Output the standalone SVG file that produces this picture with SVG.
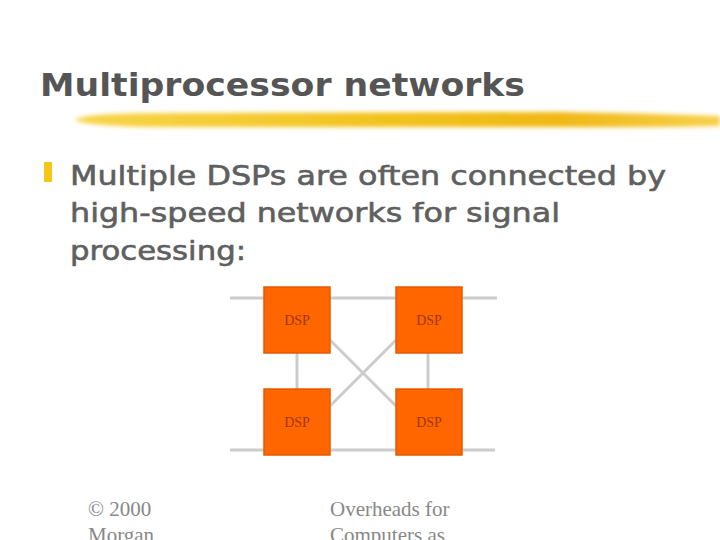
<svg xmlns="http://www.w3.org/2000/svg" width="720" height="540" viewBox="0 0 720 540">
<defs>
<linearGradient id="brush" x1="0" y1="0" x2="1" y2="0">
<stop offset="0" stop-color="#f7d54a"/>
<stop offset="0.5" stop-color="#f2c21c"/>
<stop offset="0.75" stop-color="#f0b816"/>
<stop offset="1" stop-color="#f7d04a"/>
</linearGradient>
<filter id="blur" x="-5%" y="-50%" width="110%" height="200%"><feGaussianBlur stdDeviation="2"/></filter>
</defs>
<style>
.title{font-family:"DejaVu Sans",Verdana,sans-serif;font-size:32px;font-weight:bold;fill:#555555;}
.body{font-family:"DejaVu Sans",Verdana,sans-serif;font-size:27px;fill:#5f5f5f;stroke:#5f5f5f;stroke-width:0.6;}
.foot{font-family:"Liberation Serif","Times New Roman",serif;font-size:21px;fill:#888888;}
.dsp{fill:#ff6600;stroke:#e55a00;stroke-width:1.5;}
.lbl{font-family:"Liberation Serif","Times New Roman",serif;font-size:14px;fill:#a03800;text-anchor:middle;}
.wire{stroke:#cccccc;stroke-width:3;fill:none;}
</style>
<rect width="720" height="540" fill="#ffffff"/>
<text class="title" x="40" y="96" textLength="485" lengthAdjust="spacingAndGlyphs">Multiprocessor networks</text>
<path d="M75,120 Q80,112 200,113 L560,112 Q640,113 720,116 L720,126 Q640,128 560,127 L200,127 Q90,128 75,120 Z" fill="url(#brush)" filter="url(#blur)"/>
<rect x="44" y="162" width="8" height="20" fill="#f5c518"/>
<text class="body" x="70" y="185" textLength="596" lengthAdjust="spacingAndGlyphs">Multiple DSPs are often connected by</text>
<text class="body" x="70" y="222" textLength="490" lengthAdjust="spacingAndGlyphs">high-speed networks for signal</text>
<text class="body" x="70" y="260" textLength="176" lengthAdjust="spacingAndGlyphs">processing:</text>
<g id="connectors">
<line class="wire" x1="230" y1="298" x2="497" y2="298"/>
<line class="wire" x1="230" y1="450" x2="495" y2="450"/>
<line class="wire" x1="297" y1="353" x2="297" y2="389"/>
<line class="wire" x1="428" y1="353" x2="428" y2="389"/>
<line class="wire" x1="330" y1="340" x2="396" y2="406"/>
<line class="wire" x1="396" y1="340" x2="330" y2="406"/>
</g>
<g id="dsp1"><rect class="dsp" x="264" y="287" width="66" height="66"/><text class="lbl" x="297" y="325">DSP</text></g>
<g id="dsp2"><rect class="dsp" x="396" y="287" width="66" height="66"/><text class="lbl" x="429" y="325">DSP</text></g>
<g id="dsp3"><rect class="dsp" x="264" y="389" width="66" height="66"/><text class="lbl" x="297" y="427">DSP</text></g>
<g id="dsp4"><rect class="dsp" x="396" y="389" width="66" height="66"/><text class="lbl" x="429" y="427">DSP</text></g>
<text class="foot" x="88" y="516">© 2000</text>
<text class="foot" x="88" y="542">Morgan</text>
<text class="foot" x="330" y="516">Overheads for</text>
<text class="foot" x="330" y="542">Computers as</text>
</svg>
